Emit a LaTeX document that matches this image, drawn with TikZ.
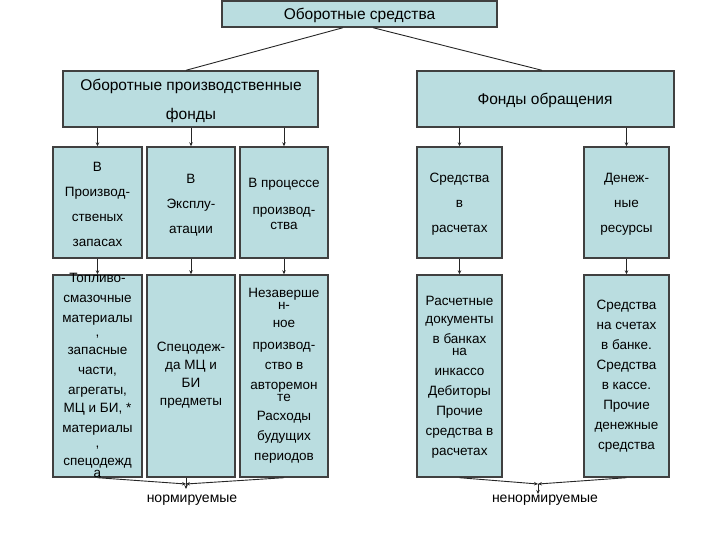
\documentclass[tikz,border=0pt]{standalone}
\usepackage{fontspec}
\setmainfont{Liberation Sans}
\usetikzlibrary{arrows.meta}
\definecolor{boxfill}{RGB}{186,221,224}
\definecolor{boxline}{RGB}{64,64,64}
\begin{document}
\begin{tikzpicture}[x=1pt,y=-1pt,
  box/.style={draw=boxline, line width=1.4pt, fill=boxfill, inner sep=0pt},
  txt/.style={font=\fontsize{13.5}{20}\selectfont, align=center, inner sep=0pt},
  txtup/.style={font=\fontsize{13.5}{25}\selectfont, align=center, inner sep=0pt},
  txtbig/.style={font=\fontsize{15.5}{20}\selectfont, align=center, inner sep=0pt},
  conn/.style={draw=black!85, line width=0.9pt},
  arr/.style={conn, -{Stealth[length=4pt,width=3.5pt]}}]
\useasboundingbox (0,0) rectangle (720,540);

% top box
\node[box, minimum width=275pt, minimum height=26pt] (top) at (359.5,14) {};
\node[txtbig] (toptxt) at (359.5,15) {Оборотные средства};

% second level
\node[box, minimum width=255pt, minimum height=56pt] (L) at (190.5,99) {};
\node[txtbig] (Ltxt) at (191,100.5) {Оборотные производственные\\[9pt]фонды};
\node[box, minimum width=257pt, minimum height=56pt] (R) at (545.5,99) {};
\node[txtbig] (Rtxt) at (545,100) {Фонды обращения};

\draw[conn] ([xshift=-16.5pt]top.south) -- ([xshift=-4.5pt]L.north);
\draw[conn] ([xshift=13.5pt]top.south) -- ([xshift=-3.5pt]R.north);

% upper small boxes
\node[box, minimum width=89pt, minimum height=111pt] (u1) at (97.5,202.5) {};
\node[box, minimum width=88pt, minimum height=111pt] (u2) at (191,202.5) {};
\node[box, minimum width=88pt, minimum height=111pt] (u3) at (284,202.5) {};
\node[box, minimum width=85pt, minimum height=111pt] (u4) at (459.5,202.5) {};
\node[box, minimum width=85pt, minimum height=111pt] (u5) at (626.5,202.5) {};

\node[txtup] (u1t) at (97.5,204) {В\\Производ-\\ственых\\запасах};
\node[txtup] (u2t) at (191,205) {В\\Эксплу-\\атации};
\node[txtup] (u3t) at (284,204) {В процессе\\[2pt]производ-\\[-10pt]ства};
\node[txtup] (u4t) at (459.5,204.5) {Средства\\в\\расчетах};
\node[txtup] (u5t) at (626.5,204.5) {Денеж-\\ные\\ресурсы};

\foreach \b in {u1,u2,u3} \draw[arr] (L.south -| \b.north) -- (\b.north);
\foreach \b in {u4,u5} \draw[arr] (R.south -| \b.north) -- (\b.north);

% lower small boxes
\node[box, minimum width=89pt, minimum height=202pt] (l1) at (97.5,376) {};
\node[box, minimum width=88pt, minimum height=202pt] (l2) at (191,376) {};
\node[box, minimum width=88pt, minimum height=202pt] (l3) at (284,376) {};
\node[box, minimum width=85pt, minimum height=202pt] (l4) at (459.5,376) {};
\node[box, minimum width=85pt, minimum height=202pt] (l5) at (626.5,376) {};

\node[txt] (l1t) at (97.5,375) {Топливо-\\смазочные\\материалы\\[-6pt],\\[-2pt]запасные\\части,\\агрегаты,\\[-2pt]МЦ и БИ, *\\материалы\\[-5pt],\\[-2pt]спецодежд\\[-8pt]а};
\node[txt] (l2t) at (191,375) {Спецодеж-\\[-2pt]да МЦ и\\[-2pt]БИ\\[-2pt]предметы};
\node[txt] (l3t) at (284,376) {Незаверше\\[-8pt]н-\\[-2pt]ное\\[2pt]производ-\\ство в\\авторемон\\[-8pt]те\\[-1pt]Расходы\\будущих\\периодов};
\node[txt] (l4t) at (459.5,377) {Расчетные\\[-2pt]документы\\в банках\\[-8pt]на\\инкассо\\Дебиторы\\Прочие\\средства в\\расчетах};
\node[txt] (l5t) at (626.5,376) {Средства\\на счетах\\в банке.\\Средства\\в кассе.\\Прочие\\денежные\\средства};

\foreach \i in {1,...,5} \draw[arr] (u\i.south) -- (l\i.north);

% bottom merges
\coordinate (m1) at (186,484);
\coordinate (m1e) at (186,489);
\coordinate (m2) at (538,484);
\coordinate (m2e) at (538,494);
\draw[arr] (l1.south) -- (m1);
\draw[arr] (l3.south) -- (m1);
\draw[arr] (l2.south -| m1) -- (m1e);
\draw[arr] (l4.south) -- (m2);
\draw[arr] (l5.south) -- (m2);
\draw[arr] (m2) -- (m2e);

\node[txt, font=\fontsize{14}{17}\selectfont] (norm) at (192,500) {нормируемые};
\node[txt, font=\fontsize{14}{17}\selectfont] (nenorm) at (545,500) {ненормируемые};
\end{tikzpicture}
\end{document}
